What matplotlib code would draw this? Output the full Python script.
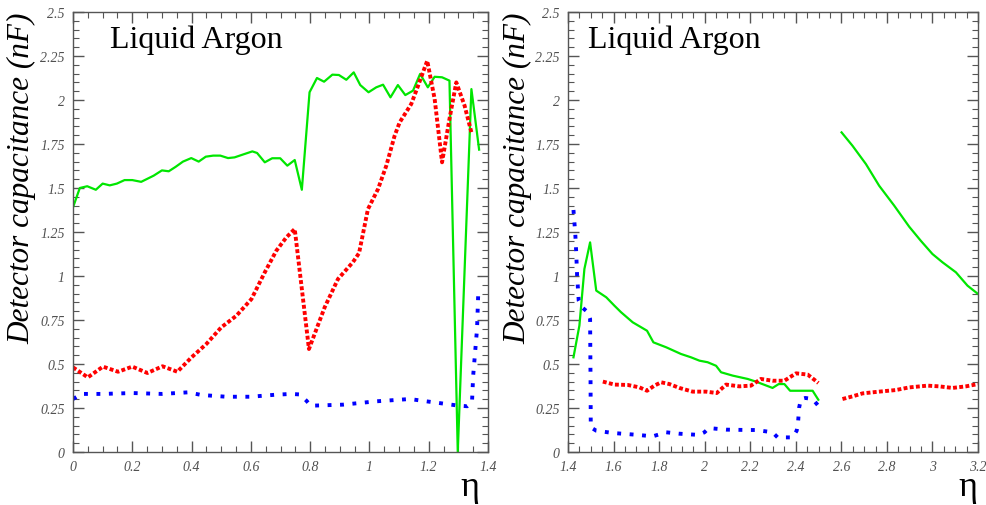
"""
Detector capacitance vs eta, liquid argon calorimeter (two panels).
"""

import matplotlib
matplotlib.use("Agg")
import matplotlib.pyplot as plt
from matplotlib.ticker import MultipleLocator

GREEN = "#00e600"
RED = "#ff0000"
BLUE = "#0000ff"
AXCOL = "#555555"

# ---- left panel (barrel) ----
L_GREEN_X = [0.0, 0.023, 0.048, 0.077, 0.10, 0.124, 0.148, 0.174, 0.20, 0.23, 0.272, 0.30,
             0.323, 0.346, 0.371, 0.399, 0.424, 0.448, 0.473, 0.497, 0.523, 0.545, 0.573,
             0.605, 0.621, 0.647, 0.672, 0.699, 0.723, 0.748, 0.772, 0.798, 0.823, 0.847,
             0.875, 0.897, 0.922, 0.947, 0.969, 0.997, 1.023, 1.046, 1.071, 1.096, 1.121,
             1.147, 1.171, 1.197, 1.22, 1.245, 1.27, 1.298, 1.344, 1.37]
L_GREEN_Y = [1.39, 1.50, 1.51, 1.49, 1.525, 1.515, 1.525, 1.545, 1.545, 1.535, 1.57, 1.60,
             1.595, 1.62, 1.65, 1.67, 1.65, 1.678, 1.684, 1.684, 1.67, 1.674, 1.69,
             1.708, 1.699, 1.646, 1.669, 1.669, 1.627, 1.659, 1.49, 2.044, 2.125, 2.104,
             2.144, 2.142, 2.115, 2.157, 2.085, 2.044, 2.072, 2.087, 2.015, 2.085, 2.028,
             2.053, 2.148, 2.072, 2.132, 2.129, 2.11, 0.0, 2.062, 1.718]

L_RED_X = [0.0, 0.05, 0.101, 0.152, 0.20, 0.251, 0.302, 0.352, 0.40, 0.45, 0.50, 0.551,
           0.602, 0.647, 0.686, 0.72, 0.748, 0.796, 0.849, 0.894, 0.944, 0.965, 0.995,
           1.029, 1.057, 1.085, 1.102, 1.141, 1.158, 1.195, 1.22, 1.245, 1.27, 1.293,
           1.321, 1.344]
L_RED_Y = [0.481, 0.424, 0.485, 0.456, 0.485, 0.449, 0.487, 0.456, 0.538, 0.614, 0.708, 0.774,
           0.869, 1.021, 1.144, 1.22, 1.267, 0.585, 0.822, 0.983, 1.078, 1.13, 1.38,
           1.494, 1.627, 1.797, 1.873, 1.977, 2.053, 2.223, 2.006, 1.646, 1.892, 2.10,
           1.968, 1.816]

L_BLUE_X = [0.0, 0.028, 0.10, 0.20, 0.30, 0.388, 0.433, 0.517, 0.60, 0.68, 0.736, 0.765,
            0.787, 0.802, 0.911, 1.023, 1.136, 1.192, 1.276, 1.302, 1.33, 1.346, 1.35,
            1.363, 1.367]
L_BLUE_Y = [0.301, 0.33, 0.33, 0.335, 0.33, 0.339, 0.324, 0.314, 0.314, 0.325, 0.33, 0.327,
            0.292, 0.263, 0.269, 0.288, 0.301, 0.288, 0.269, 0.263, 0.26, 0.282, 0.434,
            0.699, 0.898]

# ---- right panel (end-cap + forward) ----
R_GREEN1_X = [1.424, 1.45, 1.472, 1.497, 1.524, 1.568, 1.604, 1.633, 1.684, 1.747, 1.775,
              1.831, 1.896, 1.94, 1.977, 2.013, 2.05, 2.072, 2.123, 2.189, 2.225, 2.298,
              2.325, 2.35, 2.375, 2.474, 2.499]
R_GREEN1_Y = [0.538, 0.718, 1.04, 1.191, 0.917, 0.879, 0.831, 0.794, 0.737, 0.689, 0.623,
              0.595, 0.557, 0.538, 0.519, 0.51, 0.49, 0.453, 0.434, 0.415, 0.40, 0.364,
              0.386, 0.386, 0.348, 0.348, 0.297]
R_GREEN2_X = [2.601, 2.649, 2.708, 2.766, 2.832, 2.898, 2.949, 3.0, 3.044, 3.103, 3.154, 3.20]
R_GREEN2_Y = [1.816, 1.74, 1.636, 1.513, 1.40, 1.28, 1.20, 1.125, 1.078, 1.021, 0.945, 0.898]

R_RED1_X = [1.553, 1.604, 1.662, 1.714, 1.747, 1.779, 1.809, 1.845, 1.889, 1.947, 2.006,
            2.053, 2.094, 2.152, 2.203, 2.247, 2.298, 2.35, 2.401, 2.452, 2.481, 2.499]
R_RED1_Y = [0.40, 0.383, 0.381, 0.367, 0.348, 0.377, 0.396, 0.386, 0.364, 0.343, 0.343,
            0.335, 0.383, 0.373, 0.377, 0.415, 0.405, 0.405, 0.447, 0.44, 0.411, 0.392]
R_RED2_X = [2.605, 2.649, 2.693, 2.766, 2.839, 2.898, 2.978, 3.029, 3.088, 3.147, 3.20]
R_RED2_Y = [0.301, 0.316, 0.333, 0.343, 0.352, 0.367, 0.377, 0.373, 0.364, 0.373, 0.386]

R_BLUE_X = [1.424, 1.432, 1.436, 1.44, 1.447, 1.462, 1.487, 1.497, 1.499, 1.50, 1.524,
            1.597, 1.699, 1.772, 1.831, 1.889, 1.974, 1.999, 2.018, 2.094, 2.19, 2.225,
            2.298, 2.32, 2.386, 2.404, 2.41, 2.415, 2.423, 2.442, 2.474, 2.496]
R_BLUE_Y = [1.375, 1.239, 1.135, 1.002, 0.86, 0.822, 0.794, 0.756, 0.40, 0.14, 0.121,
            0.108, 0.098, 0.089, 0.112, 0.104, 0.097, 0.112, 0.136, 0.127, 0.125, 0.125,
            0.112, 0.083, 0.083, 0.121, 0.169, 0.254, 0.301, 0.307, 0.301, 0.267]

SERIF = "Liberation Serif"


def style_axes(ax, xlim, eta_x):
    ax.set_xlim(*xlim)
    ax.set_ylim(0, 2.5)
    ax.xaxis.set_major_locator(MultipleLocator(0.2))
    ax.xaxis.set_minor_locator(MultipleLocator(0.05))
    ax.yaxis.set_major_locator(MultipleLocator(0.25))
    ax.yaxis.set_minor_locator(MultipleLocator(0.05))
    ax.tick_params(which="both", direction="in", top=True, right=True, color=AXCOL,
                   labelcolor="#505050", labelsize=10, pad=6)
    ax.tick_params(which="major", length=8, width=1)
    ax.tick_params(which="minor", length=4, width=0.8)
    ax.xaxis.set_major_formatter(plt.FuncFormatter(lambda v, p: f"{v:g}"))
    ax.yaxis.set_major_formatter(plt.FuncFormatter(lambda v, p: f"{v:g}"))
    for lab in ax.get_xticklabels() + ax.get_yticklabels():
        lab.set_fontfamily(SERIF)
        lab.set_fontstyle("italic")
    for sp in ax.spines.values():
        sp.set_color(AXCOL)
        sp.set_linewidth(1.0)
    ax.text(-0.123, 0.625, "Detector capacitance (nF)", transform=ax.transAxes,
            rotation=90, ha="center", va="center", fontsize=22.5, fontstyle="italic",
            family=SERIF)
    ax.text(eta_x, -0.098, "η", transform=ax.transAxes, ha="center", va="baseline",
            fontsize=26, family=SERIF)


def main() -> None:
    fig = plt.figure(figsize=(9.86, 5.06), dpi=100)
    ax1 = fig.add_axes([73 / 986, 53 / 506, 415 / 986, 440 / 506])
    ax2 = fig.add_axes([568 / 986, 53 / 506, 410 / 986, 440 / 506])

    dot_red = dict(color=RED, lw=2.8, linestyle=(0, (1, 0.6)), dash_capstyle="butt")
    dot_blue = dict(color=BLUE, lw=2.8, linestyle=(0, (1, 2.2)), dash_capstyle="butt")

    ax1.plot(L_GREEN_X, L_GREEN_Y, color=GREEN, lw=1.6)
    ax1.plot(L_RED_X, L_RED_Y, **dot_red)
    ax1.plot(L_BLUE_X, L_BLUE_Y, **dot_blue)
    style_axes(ax1, (0, 1.4), 0.957)
    ax1.text(0.09, 0.92, "Liquid Argon", transform=ax1.transAxes, fontsize=23,
             family=SERIF, va="baseline")

    ax2.plot(R_GREEN1_X, R_GREEN1_Y, color=GREEN, lw=1.6)
    ax2.plot(R_GREEN2_X, R_GREEN2_Y, color=GREEN, lw=1.6)
    ax2.plot(R_RED1_X, R_RED1_Y, **dot_red)
    ax2.plot(R_RED2_X, R_RED2_Y, **dot_red)
    ax2.plot(R_BLUE_X, R_BLUE_Y, **dot_blue)
    style_axes(ax2, (1.4, 3.2), 0.976)
    ax2.text(0.05, 0.92, "Liquid Argon", transform=ax2.transAxes, fontsize=23,
             family=SERIF, va="baseline")

    fig.savefig("out.png", dpi=100)
    plt.close(fig)


if __name__ == "__main__":
    main()
